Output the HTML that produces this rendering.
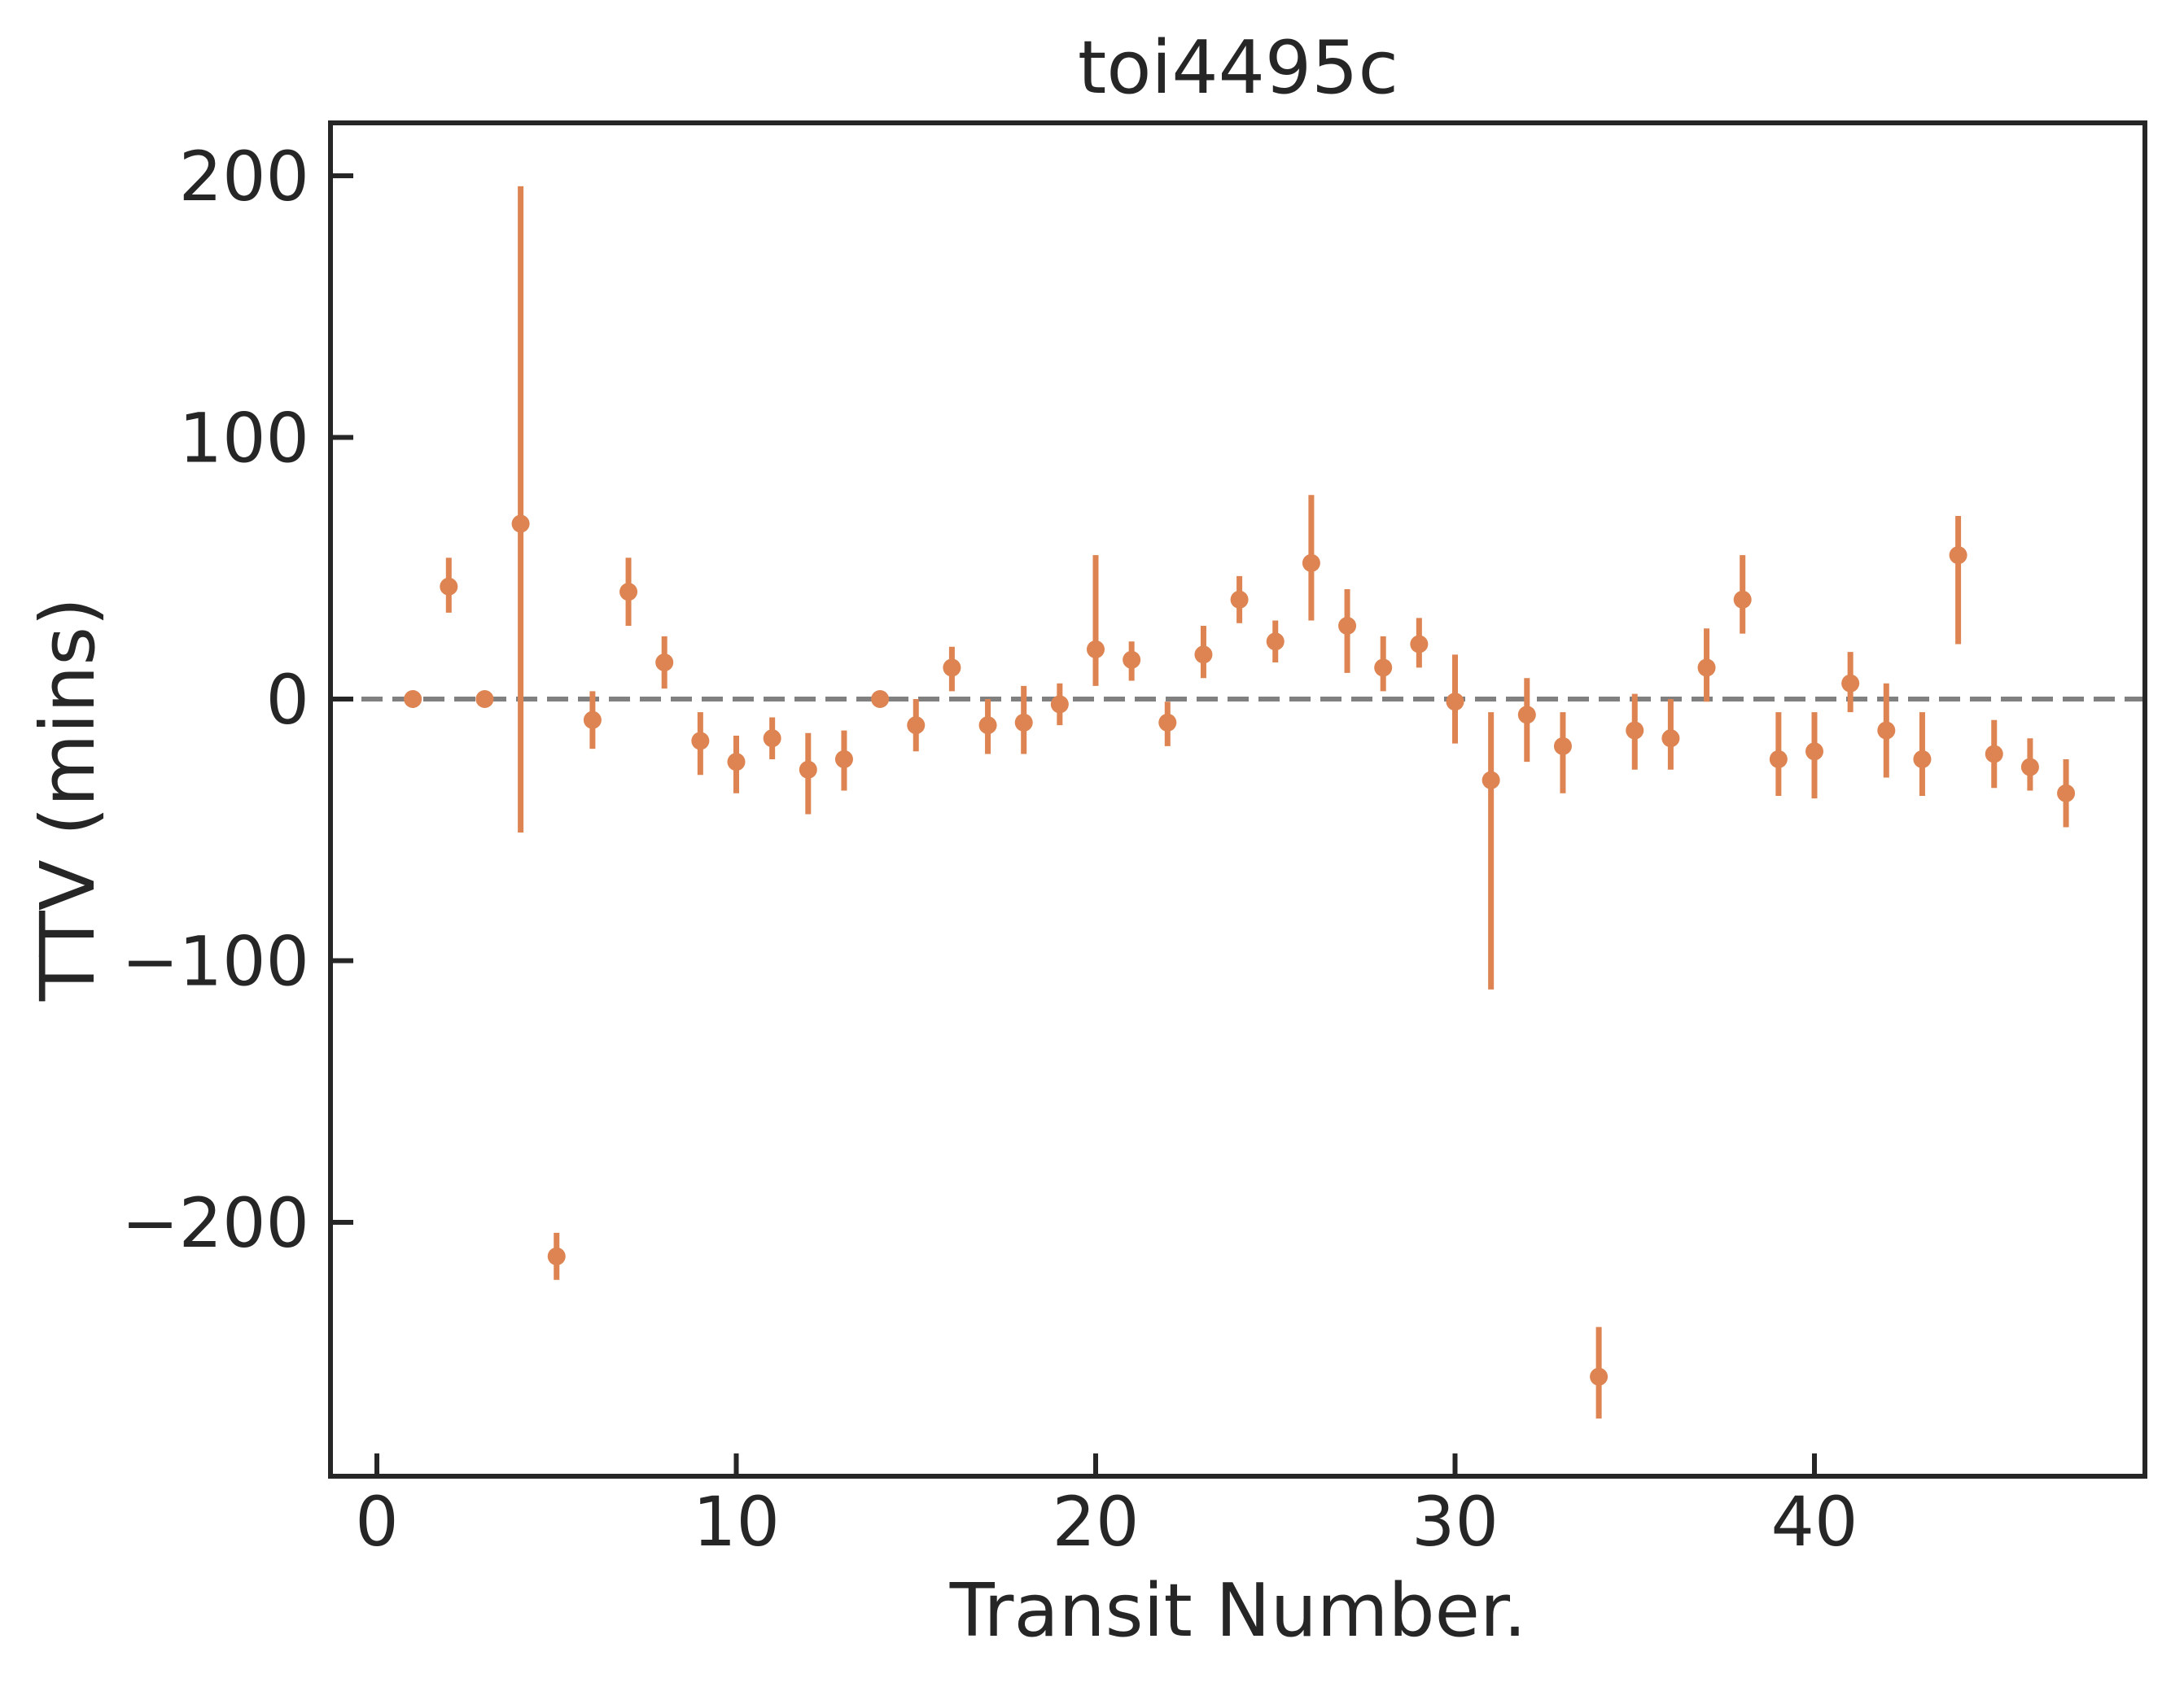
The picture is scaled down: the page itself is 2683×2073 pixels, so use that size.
<!DOCTYPE html>
<html><head><meta charset="utf-8"><style>
html,body{margin:0;padding:0;background:#fff;}
svg{display:block;font-family:"DejaVu Sans","Liberation Sans",sans-serif;}
</style></head><body>
<svg id="chart" width="2683" height="2073" viewBox="0 0 2683 2073" xmlns="http://www.w3.org/2000/svg">
<rect width="2683" height="2073" fill="#fff"/>
<g id="marks"></g>
<g id="axes"></g>
<text x="1521" y="114" font-size="90" fill="#262626" text-anchor="middle">toi4495c</text>
<text x="1521" y="2010" font-size="90" fill="#262626" text-anchor="middle">Transit Number.</text>
<text transform="translate(115,982) rotate(-90)" font-size="92" fill="#262626" text-anchor="middle">TTV (mins)</text>
</svg>
<script>
const transits=[1,2,3,4,5,6,7,8,9,10,11,12,13,14,15,16,17,18,19,20,21,22,23,24,25,26,27,28,29,30,31,32,33,34,35,36,37,38,39,40,41,42,43,44,45,46,47];
const ttv=[0,43,0,67,-213,-8,41,14,-16,-24,-15,-27,-23,0,-10,12,-10,-9,-2,19,15,-9,17,38,22,52,28,12,21,-1,-31,-6,-18,-259,-12,-15,12,38,-23,-20,6,-12,-23,55,-21,-26,-36];
const errLow=[0,33,0,-51,-222,-19,28,4,-29,-36,-23,-44,-35,0,-20,3,-21,-21,-10,5,7,-18,8,29,14,30,10,3,12,-17,-111,-24,-36,-275,-27,-27,-1,25,-37,-38,-5,-30,-37,21,-34,-35,-49];
const errHigh=[0,54,0,196,-204,3,54,24,-5,-14,-7,-13,-12,0,0,20,0,5,6,55,22,-1,28,47,30,78,42,24,31,17,-5,8,-5,-240,2,0,27,55,-5,-5,18,6,-5,70,-8,-15,-23];
const xTicks=[0,10,20,30,40];
const yTicks=[-200,-100,0,100,200];
const yTickLabels=["\u2212200","\u2212100","0","100","200"];

const L=406,R=2635,T=151,B=1814;
const X=v=>463+v*44.15;
const Y=v=>859-v*3.215;
const NS="http://www.w3.org/2000/svg";
function mk(tag,attrs,parent){const e=document.createElementNS(NS,tag);for(const k in attrs)e.setAttribute(k,attrs[k]);parent.appendChild(e);return e;}
const marks=document.getElementById('marks'),axes=document.getElementById('axes');
const zl=mk('line',{x1:L,x2:R,y1:Y(0),y2:Y(0),stroke:'#808080','stroke-width':6,'stroke-dasharray':'26 12'},marks);


transits.forEach((t,i)=>{
  const eb=mk('line',{x1:X(t),x2:X(t),y1:Y(errLow[i]),y2:Y(errHigh[i]),stroke:'#dd8452','stroke-width':7},marks);
  
  
  const p=mk('circle',{cx:X(t),cy:Y(ttv[i]),r:11,fill:'#dd8452'},marks);
  
  
});
const fr=mk('rect',{x:L,y:T,width:R-L,height:B-T,fill:'none',stroke:'#262626','stroke-width':6},axes);


xTicks.forEach(v=>{
  const tk=mk('line',{x1:X(v),x2:X(v),y1:B,y2:B-28,stroke:'#262626','stroke-width':6},axes);
  
  
  const tx=mk('text',{x:X(v),y:1899,'font-size':84,fill:'#262626','text-anchor':'middle'},axes);
  tx.textContent=String(v);
  
  
});
yTicks.forEach((v,i)=>{
  const tk=mk('line',{x1:L,x2:L+28,y1:Y(v),y2:Y(v),stroke:'#262626','stroke-width':6},axes);
  
  
  const tx=mk('text',{x:380,y:Y(v)+30,'font-size':84,fill:'#262626','text-anchor':'end'},axes);
  tx.textContent=yTickLabels[i];
  
  
});
</script>
</body></html>
